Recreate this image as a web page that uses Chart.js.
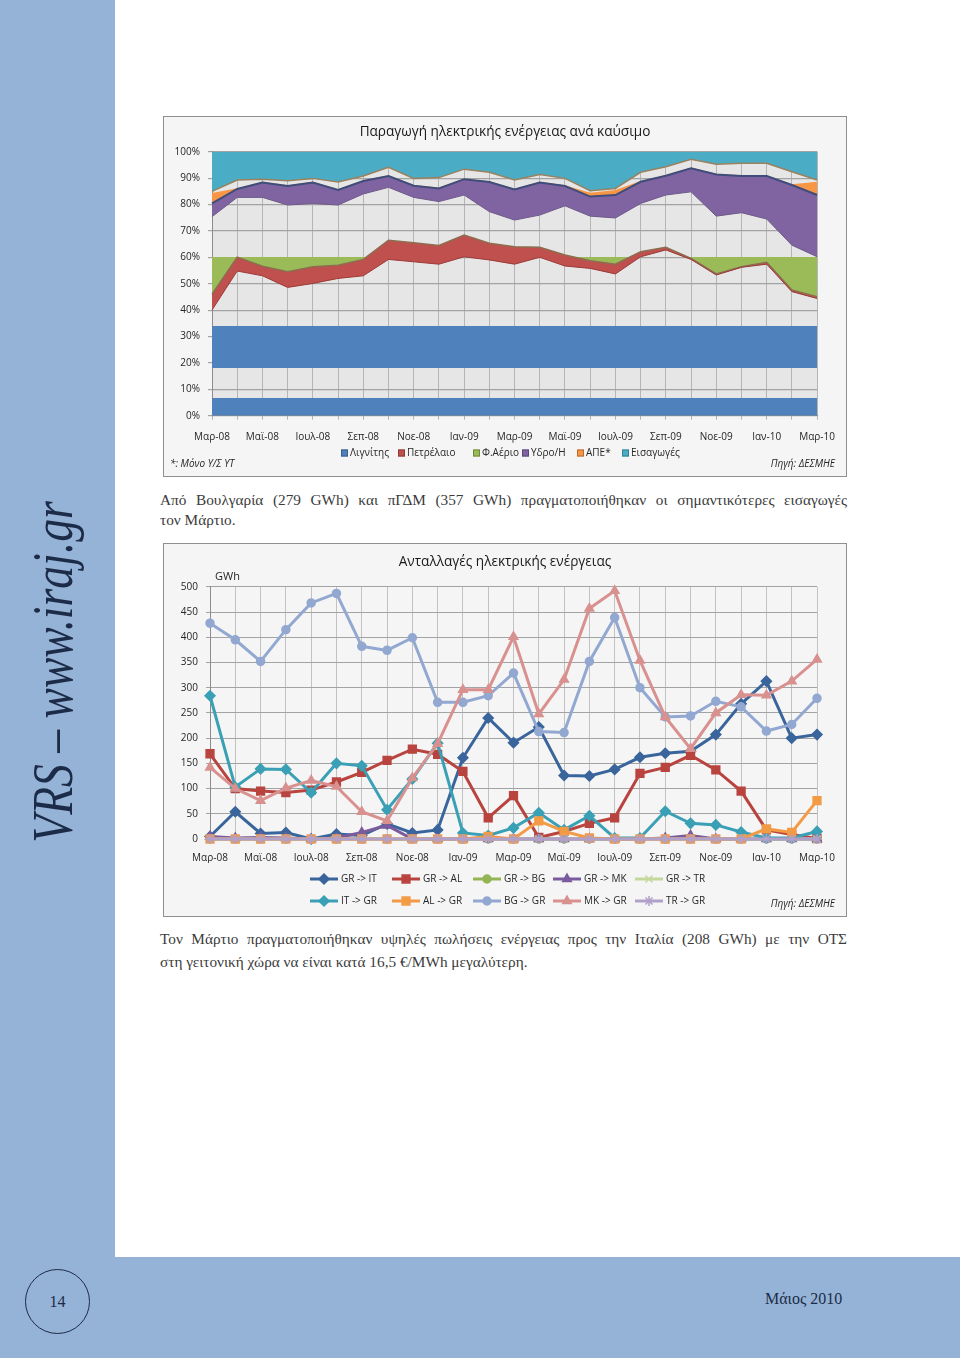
<!DOCTYPE html>
<html lang="el">
<head>
<meta charset="utf-8">
<title>Παραγωγή και ανταλλαγές ηλεκτρικής ενέργειας</title>
<script src="https://cdn.jsdelivr.net/npm/chart.js@4.4.1/dist/chart.umd.min.js"></script>
<style>
  html, body { margin: 0; padding: 0; }
  body { width: 960px; height: 1358px; position: relative; overflow: hidden; background: #fff; }
  .sidebar { position: absolute; left: 0; top: 0; width: 115px; height: 1358px; background: #95b3d7; }
  .footer { position: absolute; left: 0; top: 1257px; width: 960px; height: 101px; background: #95b3d7; }
  .side-text {
    position: absolute; left: 53px; top: 672px;
    transform: translate(-50%, -50%) rotate(-90deg) scaleX(0.815);
    font: italic 56px "Liberation Serif", "DejaVu Serif", serif; line-height: 1;
    white-space: nowrap; color: #1c2b47;
  }
  .page-no {
    position: absolute; left: 25px; top: 1269px; width: 63px; height: 63px;
    border: 1.6px solid #1c2b47; border-radius: 50%;
    font: 16px "Liberation Serif", serif; color: #1c2b47;
    display: flex; align-items: center; justify-content: center;
  }
  .date { position: absolute; left: 765px; top: 1290px; font: 16px "Liberation Serif", serif; color: #1c2b47; }
  .frame { position: absolute; left: 163px; width: 682px; border: 1px solid #8f8f8f; background: #f5f5f5; }
  .frame canvas { position: absolute; left: 0; top: 0; }
  .note { position: absolute; font: italic 10px "Open Sans", sans-serif; color: #262626; white-space: nowrap; }
  .para { position: absolute; left: 160px; width: 687px; font: 15.3px "Liberation Serif", serif; color: #3b3b3b; }
  .para .j { text-align: justify; text-align-last: justify; white-space: nowrap; }
</style>
</head>
<body>
<div class="sidebar"></div>
<div class="footer"></div>
<div class="side-text">VRS – www.iraj.gr</div>
<div class="page-no">14</div>
<div class="date">Μάιος 2010</div>

<div class="frame" style="top:116px;height:359px;">
  <canvas id="fuelChart" width="682" height="359"></canvas>
  <div class="note" style="left:6px;top:339px;">*: Μόνο Υ/Σ ΥΤ</div>
  <div class="note" style="right:11px;top:339px;">Πηγή: ΔΕΣΜΗΕ</div>
</div>

<div class="para" style="top:490px;line-height:20px;">
  <div class="j">Από Βουλγαρία (279 GWh) και πΓΔΜ (357 GWh) πραγματοποιήθηκαν οι σημαντικότερες εισαγωγές</div>
  <div>τον Μάρτιο.</div>
</div>

<div class="frame" style="top:543px;height:372px;">
  <canvas id="exchangeChart" width="682" height="372"></canvas>
  <div class="note" style="left:51px;top:24px;font-style:normal;font-size:11px;">GWh</div>
  <div class="note" style="right:11px;top:352px;">Πηγή: ΔΕΣΜΗΕ</div>
</div>

<div class="para" style="top:927px;line-height:23px;">
  <div class="j">Τον Μάρτιο πραγματοποιήθηκαν υψηλές πωλήσεις ενέργειας προς την Ιταλία (208 GWh) με την ΟΤΣ</div>
  <div>στη γειτονική χώρα να είναι κατά 16,5 €/MWh μεγαλύτερη.</div>
</div>

<script>
const months = ['Μαρ-08', 'Απρ-08', 'Μαϊ-08', 'Ιουν-08', 'Ιουλ-08', 'Αυγ-08', 'Σεπ-08', 'Οκτ-08', 'Νοε-08', 'Δεκ-08',
    'Ιαν-09', 'Φεβ-09', 'Μαρ-09', 'Απρ-09', 'Μαϊ-09', 'Ιουν-09', 'Ιουλ-09', 'Αυγ-09', 'Σεπ-09', 'Οκτ-09',
    'Νοε-09', 'Δεκ-09', 'Ιαν-10', 'Φεβ-10', 'Μαρ-10'];

// μερίδια παραγωγής (%) ανά καύσιμο, όπως διαβάζονται από το διάγραμμα
const lignite = [40, 54.8, 53, 48.6, 50.1, 52, 53, 59.2, 58.3, 57.4, 60.2, 59, 57.4, 60, 56.7, 55.8, 53.7, 60.2, 62.8, 59.2, 53.3, 56.2, 57.4, 47, 44.4];
const oil = [6, 5.3, 3.6, 5.9, 6.3, 5, 6.2, 7.3, 7.2, 7.1, 8.2, 6.3, 6.6, 3.8, 4.2, 2.9, 3.7, 1.9, 1.0, 0.4, 0.4, 0.2, 0.7, 0.6, 0.7];
const gas = [29.4, 22.6, 26.1, 25.3, 24.0, 22.8, 24.8, 20.0, 17.2, 16.6, 15.2, 12.0, 10.1, 12.2, 18.6, 16.9, 17.5, 18.3, 19.8, 25.2, 21.9, 20.5, 16.4, 17.0, 15.1];
const hydro = [5.0, 3.2, 5.6, 7.2, 7.9, 5.7, 4.9, 4.3, 4.4, 5.0, 6.0, 11.2, 11.6, 12.3, 7.5, 7.4, 8.7, 8.2, 7.3, 8.9, 15.8, 13.9, 16.3, 22.8, 23.4];
const res = [4.0, 0.3, 0.3, 0.3, 0.3, 0.3, 0.3, 0.3, 0.3, 0.3, 0.3, 0.3, 0.3, 0.3, 0.3, 1.5, 1.9, 0.3, 0.3, 0.3, 0.3, 0.3, 0.3, 0.3, 5.0];
const imports = [15.0, 10.7, 10.4, 11.0, 10.1, 11.5, 9.2, 5.9, 10.1, 9.8, 6.6, 7.8, 10.7, 8.6, 10.1, 14.8, 13.9, 7.8, 5.7, 2.9, 4.7, 4.4, 4.4, 7.6, 10.7];

// ανταλλαγές (GWh)
const grIt = [5, 54, 11, 13, 0, 10, 7, 30, 12, 18, 161, 240, 191, 222, 126, 125, 138, 162, 170, 174, 207, 268, 313, 200, 207];
const grAl = [169, 100, 95, 92, 97, 113, 132, 156, 178, 168, 134, 42, 86, 3, 15, 31, 42, 130, 142, 166, 137, 95, 18, 9, 1];
const grBg = [0, 0, 0, 0, 0, 0, 0, 0, 0, 0, 0, 0, 0, 0, 0, 0, 0, 0, 0, 0, 0, 0, 0, 0, 0];
const grMk = [5, 2, 3, 2, 0, 2, 13, 27, 0, 0, 0, 0, 0, 0, 0, 0, 0, 0, 2, 7, 0, 0, 0, 0, 0];
const grTr = [0, 0, 0, 0, 0, 0, 0, 0, 0, 0, 0, 0, 0, 0, 0, 0, 0, 0, 0, 0, 0, 0, 0, 0, 0];
const itGr = [284, 103, 139, 138, 92, 150, 145, 58, 119, 190, 12, 7, 22, 52, 18, 46, 2, 2, 55, 31, 28, 14, 2, 2, 15];
const alGr = [0, 0, 0, 0, 0, 0, 0, 0, 0, 0, 0, 5, 0, 36, 15, 2, 0, 0, 0, 0, 0, 0, 20, 13, 76];
const bgGr = [428, 395, 352, 415, 468, 487, 382, 374, 399, 271, 271, 284, 329, 213, 211, 352, 439, 300, 242, 244, 273, 262, 214, 227, 279];
const mkGr = [142, 100, 76, 101, 116, 104, 54, 36, 121, 189, 296, 296, 401, 248, 316, 457, 492, 354, 242, 179, 250, 286, 285, 313, 356];
const trGr = [0, 0, 0, 0, 0, 0, 0, 0, 0, 0, 0, 0, 0, 0, 0, 0, 0, 0, 0, 0, 0, 0, 0, 0, 0];

const FONT = '"Open Sans", "Noto Sans", sans-serif';
Chart.defaults.font.family = FONT;
Chart.defaults.font.size = 10;
Chart.defaults.color = '#262626';
Chart.defaults.animation = false;

const plotBg = {
    id: 'plotBg',
    beforeDraw(chart, args, opts) {
        if (!opts.color) return;
        const { ctx, chartArea: a } = chart;
        ctx.save();
        ctx.fillStyle = opts.color;
        ctx.fillRect(a.left, a.top, a.right - a.left, a.bottom - a.top);
        ctx.restore();
    }
};

// legend in fixed columns/rows: small squares, or line + marker like the spreadsheet legend
const gridLegend = {
    id: 'gridLegend',
    afterDraw(chart, args, opts) {
        if (!opts.cols) return;
        const ctx = chart.ctx;
        ctx.save();
        ctx.font = opts.size + 'px ' + FONT;
        ctx.textBaseline = 'middle';
        chart.data.datasets.forEach((ds, i) => {
            const x = opts.cols[i % opts.cols.length];
            const y = opts.rows[Math.floor(i / opts.cols.length)];
            let textX;
            if (opts.fills) {
                ctx.fillStyle = opts.fills[i];
                ctx.strokeStyle = opts.edges[i];
                ctx.lineWidth = 1;
                ctx.fillRect(x, y - 3.5, 7, 7);
                ctx.strokeRect(x + 0.5, y - 3, 6, 6);
                textX = x + 9;
            } else {
                ctx.strokeStyle = ds.borderColor;
                ctx.lineWidth = 3;
                ctx.beginPath();
                ctx.moveTo(x, y);
                ctx.lineTo(x + 28, y);
                ctx.stroke();
                ctx.fillStyle = ds.pointBackgroundColor;
                ctx.strokeStyle = ds.pointBorderColor;
                ctx.lineWidth = ds.pointBorderWidth;
                Chart.helpers.drawPoint(ctx, { pointStyle: ds.pointStyle, radius: ds.pointRadius, rotation: 0, borderWidth: ds.pointBorderWidth }, x + 14, y);
                textX = x + 31;
            }
            ctx.fillStyle = '#262626';
            ctx.fillText(ds.label, textX, y);
        });
        ctx.restore();
    }
};

Chart.register(plotBg, gridLegend);

function evenLabel(value, index) {
    return index % 2 === 0 ? months[index] : '';
}

// empty right-hand axis, only keeps the gap on the right so the title stays centred
function spacerAxis(width) {
    return {
        position: 'right',
        display: true,
        grid: { display: false, drawTicks: false },
        border: { display: false },
        ticks: { display: false },
        afterFit: s => { s.width = width; }
    };
}

// colour only inside the given % ranges (front faces of the 3D areas)
function rangeGradient(chart, ranges, color) {
    const y = chart.scales.y;
    if (!chart.chartArea || !y) return color;
    const clear = 'rgba(0,0,0,0)';
    const g = chart.ctx.createLinearGradient(0, y.getPixelForValue(0), 0, y.getPixelForValue(100));
    g.addColorStop(0, clear);
    ranges.forEach(([from, to]) => {
        g.addColorStop(from / 100, clear);
        g.addColorStop(from / 100, color);
        g.addColorStop(to / 100, color);
        g.addColorStop(to / 100, clear);
    });
    g.addColorStop(1, clear);
    return g;
}

function cumulative(series) {
    let running = months.map(() => 0);
    return series.map(s => {
        running = running.map((v, i) => +(v + s[i]).toFixed(2));
        return running;
    });
}

const fuelColors = ['#4f81bd', '#c0504d', '#9bbb59', '#8064a2', '#f79646', '#4bacc6'];
const fuelEdges = ['#3a5f8c', '#8e3a38', '#71893f', '#5c4876', '#b86d30', '#35819a'];

const [cLignite, cOil, cGas, cHydro, cRes] = cumulative([lignite, oil, gas, hydro, res]);
const importsEdge = imports.map(v => +(100 - v).toFixed(2));

function area(label, data, fill, backgroundColor, borderColor, borderWidth) {
    return { label, data, fill, backgroundColor, borderColor, borderWidth, pointRadius: 0, tension: 0 };
}

new Chart(document.getElementById('fuelChart'), {
    type: 'line',
    data: {
        labels: months,
        datasets: [
            area('Λιγνίτης', cLignite, 'origin', c => rangeGradient(c.chart, [[0, 6.6], [18.2, 34]], fuelColors[0]), '#9b3b38', 1),
            area('Πετρέλαιο', cOil, '-1', fuelColors[1], '#8c6d4f', 1.5),
            area('Φ.Αέριο', cGas, '-1', c => rangeGradient(c.chart, [[0, 60]], fuelColors[2]), '#6d5a8a', 1),
            area('Υδρο/Η', cHydro, '-1', fuelColors[3], '#3f4d7a', 2),
            area('ΑΠΕ*', cRes, '-1', fuelColors[4], 'rgba(0,0,0,0)', 0),
            area('Εισαγωγές', importsEdge, 'end', fuelColors[5], '#98825f', 1.5)
        ]
    },
    options: {
        responsive: false,
        layout: { padding: { left: 0, right: 0, top: 0, bottom: 33.3 } },
        plugins: {
            plotBg: { color: '#e6e6e6' },
            tooltip: { enabled: false },
            legend: { display: false },
            title: {
                display: true,
                text: 'Παραγωγή ηλεκτρικής ενέργειας ανά καύσιμο',
                font: { size: 13.6, weight: 'normal' },
                color: '#1a1a1a',
                padding: { top: 6.6, bottom: 11.8 }
            },
            gridLegend: {
                cols: [177, 234, 309, 358, 413, 458], rows: [336], size: 10,
                fills: fuelColors, edges: fuelEdges
            }
        },
        scales: {
            x: {
                offset: false,
                grid: { color: '#b5b5b5', tickLength: 4 },
                border: { color: '#8c8c8c' },
                ticks: { autoSkip: false, maxRotation: 0, padding: 11, callback: evenLabel },
                afterFit: s => { s.height = 27; }
            },
            y: {
                min: 0,
                max: 100,
                grid: { color: '#a3a3a3', lineWidth: 1.2, tickLength: 4 },
                border: { color: '#8c8c8c' },
                ticks: { stepSize: 10, padding: 8, callback: v => v + '%' },
                afterFit: s => { s.width = 48; }
            },
            gap: spacerAxis(24)
        }
    }
});

const exchangeSeries = [
    { label: 'GR -> IT', data: grIt, color: '#3a659c', marker: 'rectRot', r: 5 },
    { label: 'GR -> AL', data: grAl, color: '#b9443f', marker: 'rect', r: 5.5 },
    { label: 'GR -> BG', data: grBg, color: '#93b556', marker: 'circle', r: 4 },
    { label: 'GR -> MK', data: grMk, color: '#7a5c9e', marker: 'triangle', r: 5 },
    { label: 'GR -> TR', data: grTr, color: '#c4d79c', marker: 'crossRot', r: 5 },
    { label: 'IT -> GR', data: itGr, color: '#3aa0b5', marker: 'rectRot', r: 5 },
    { label: 'AL -> GR', data: alGr, color: '#f39a45', marker: 'rect', r: 5.5 },
    { label: 'BG -> GR', data: bgGr, color: '#92a8d1', marker: 'circle', r: 4 },
    { label: 'MK -> GR', data: mkGr, color: '#d8918f', marker: 'triangle', r: 5 },
    { label: 'TR -> GR', data: trGr, color: '#b1a0c8', marker: 'star', r: 5 }
];

new Chart(document.getElementById('exchangeChart'), {
    type: 'line',
    data: {
        labels: months,
        datasets: exchangeSeries.map((s, i) => ({
            label: s.label,
            data: s.data,
            borderColor: s.color,
            backgroundColor: s.color,
            borderWidth: 3,
            pointStyle: s.marker,
            pointRadius: s.r,
            pointBackgroundColor: s.color,
            pointBorderColor: s.color,
            pointBorderWidth: 1.5,
            tension: 0,
            clip: false,
            order: exchangeSeries.length - i
        }))
    },
    options: {
        responsive: false,
        layout: { padding: { left: 0, right: 0, top: 0, bottom: 53 } },
        plugins: {
            tooltip: { enabled: false },
            legend: { display: false },
            title: {
                display: true,
                text: 'Ανταλλαγές ηλεκτρικής ενέργειας',
                font: { size: 13.6, weight: 'normal' },
                color: '#1a1a1a',
                padding: { top: 9.6, bottom: 16.9 }
            },
            gridLegend: { cols: [146, 228, 309, 389, 471], rows: [335, 357], size: 10 }
        },
        scales: {
            x: {
                offset: false,
                grid: { color: '#c2c2c2', tickLength: 4 },
                border: { color: '#8c8c8c' },
                ticks: { autoSkip: false, maxRotation: 0, padding: 9, callback: evenLabel },
                afterFit: s => { s.height = 24; }
            },
            y: {
                min: 0,
                max: 500,
                grid: { color: '#a3a3a3', tickLength: 4 },
                border: { color: '#8c8c8c' },
                ticks: { stepSize: 50, padding: 8 },
                afterFit: s => { s.width = 46; }
            },
            gap: spacerAxis(29)
        }
    }
});
</script>
</body>
</html>
